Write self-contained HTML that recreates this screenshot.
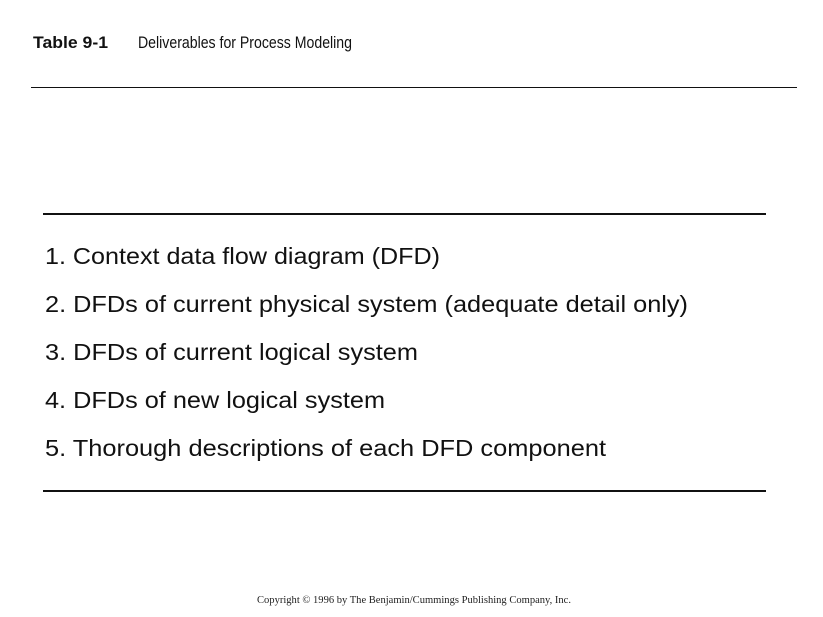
<!DOCTYPE html>
<html><head><meta charset="utf-8"><style>
html,body{margin:0;padding:0;background:#fff;}
svg{display:block;}
</style></head><body>
<svg width="823" height="617" viewBox="0 0 823 617" xmlns="http://www.w3.org/2000/svg">
<rect width="823" height="617" fill="#fff"/>
<g font-family="Liberation Sans, sans-serif" fill="#111">
<text x="33" y="48" font-size="17" font-weight="bold" textLength="75" lengthAdjust="spacingAndGlyphs">Table 9-1</text>
<text x="138" y="48" font-size="17" textLength="214" lengthAdjust="spacingAndGlyphs">Deliverables for Process Modeling</text>
</g>
<line x1="31" y1="87.5" x2="797" y2="87.5" stroke="#111" stroke-width="1"/>
<line x1="43" y1="214" x2="766" y2="214" stroke="#111" stroke-width="2"/>
<line x1="43" y1="491" x2="766" y2="491" stroke="#111" stroke-width="2"/>
<g font-family="Liberation Sans, sans-serif" font-size="23.5" fill="#111">
<text x="45" y="264" textLength="395" lengthAdjust="spacingAndGlyphs">1. Context data flow diagram (DFD)</text>
<text x="45" y="312" textLength="643" lengthAdjust="spacingAndGlyphs">2. DFDs of current physical system (adequate detail only)</text>
<text x="45" y="360" textLength="373" lengthAdjust="spacingAndGlyphs">3. DFDs of current logical system</text>
<text x="45" y="408" textLength="340" lengthAdjust="spacingAndGlyphs">4. DFDs of new logical system</text>
<text x="45" y="456" textLength="561" lengthAdjust="spacingAndGlyphs">5. Thorough descriptions of each DFD component</text>
</g>
<text x="257" y="603" font-family="Liberation Serif, serif" font-size="10.5" fill="#222" textLength="314" lengthAdjust="spacingAndGlyphs">Copyright © 1996 by The Benjamin/Cummings Publishing Company, Inc.</text>
</svg>
</body></html>
